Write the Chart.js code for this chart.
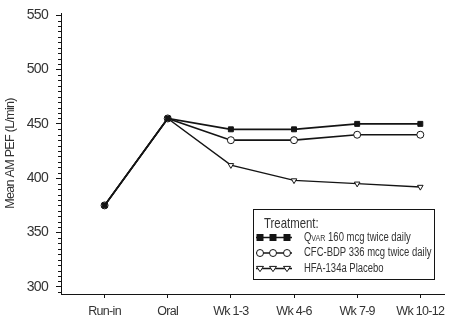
<!DOCTYPE html>
<html>
<head>
<meta charset="utf-8">
<script src="https://cdn.jsdelivr.net/npm/chart.js@4/dist/chart.umd.min.js"></script>
<style>
  html, body { margin: 0; padding: 0; background: #fff; }
  #wrap { width: 449px; height: 320px; position: relative; }
</style>
</head>
<body>
<div id="wrap"><canvas id="pefChart"></canvas></div>
<script>
// datos
const categories = ['Run-in', 'Oral', 'Wk 1-3', 'Wk 4-6', 'Wk 7-9', 'Wk 10-12'];
const qvarValues = [375, 455, 445, 445, 450, 450];
const cfcValues = [375, 455, 435, 435, 440, 440];
const hfaValues = [375, 455, 412, 398, 395, 392];
const yTickValues = [300, 350, 400, 450, 500, 550];
const legendTitle = 'Treatment:';
const seriesNames = ['Qvar 160 mcg twice daily', 'CFC-BDP 336 mcg twice daily', 'HFA-134a Placebo'];

const FONT = '"Liberation Sans", Arial, sans-serif';
const INK = '#141414';
const TEXT = '#333';

function toPoints(values) {
    return values.map((v, i) => ({ x: i, y: v }));
}

// letra mas estrecha (el original usa una fuente condensada)
const narrowText = {
    id: 'narrowText',
    beforeUpdate(chart) { chart.ctx.letterSpacing = '-0.7px'; },
    beforeDraw(chart) { chart.ctx.letterSpacing = '-0.7px'; }
};

// marcas menores del eje y cada 5 unidades
const minorTicks = {
    id: 'minorTicks',
    afterDraw(chart) {
        const y = chart.scales.y;
        const ctx = chart.ctx;
        const x0 = y.right;
        ctx.save();
        ctx.strokeStyle = INK;
        ctx.lineWidth = 1;
        ctx.beginPath();
        for (let v = 295; v <= 550; v += 5) {
            if (v % 50 === 0) continue;
            const py = Math.round(y.getPixelForValue(v)) + 0.5;
            ctx.moveTo(x0 - 3, py);
            ctx.lineTo(x0, py);
        }
        ctx.stroke();
        ctx.restore();
    }
};

function drawMarker(ctx, style, x, y) {
    const r = 3.5;
    ctx.beginPath();
    if (style === 'rect') {
        ctx.rect(x - r, y - r, r * 2, r * 2);
        ctx.fillStyle = INK;
        ctx.fill();
        return;
    }
    if (style === 'circle') {
        ctx.arc(x, y, r, 0, Math.PI * 2);
    } else {
        ctx.moveTo(x - r, y - r * 0.6);
        ctx.lineTo(x + r, y - r * 0.6);
        ctx.lineTo(x, y + r * 0.9);
        ctx.closePath();
    }
    ctx.fillStyle = '#fff';
    ctx.fill();
    ctx.lineWidth = 1;
    ctx.strokeStyle = INK;
    ctx.stroke();
}

function narrowFill(ctx, text, x, y, sx) {
    ctx.save();
    ctx.translate(x, y);
    ctx.scale(sx, 1);
    ctx.fillText(text, 0, 0);
    const w = ctx.measureText(text).width * sx;
    ctx.restore();
    return w;
}

// leyenda en recuadro dentro del area del grafico
const boxLegend = {
    id: 'boxLegend',
    afterDraw(chart) {
        const ctx = chart.ctx;
        const left = 253.5, top = 209.5, w = 181, h = 70;
        ctx.save();
        ctx.letterSpacing = '0px';
        ctx.fillStyle = '#fff';
        ctx.fillRect(left, top, w, h);
        ctx.strokeStyle = INK;
        ctx.lineWidth = 1;
        ctx.strokeRect(left, top, w, h);

        ctx.fillStyle = TEXT;
        ctx.textBaseline = 'middle';
        ctx.font = '15px ' + FONT;
        narrowFill(ctx, legendTitle, 264, 224, 0.76);

        const styles = ['rect', 'circle', 'triangle'];
        chart.data.datasets.forEach((ds, i) => {
            const cy = 237.5 + i * 15.5;
            ctx.beginPath();
            ctx.moveTo(256, cy);
            ctx.lineTo(292, cy);
            ctx.lineWidth = 1.5;
            ctx.strokeStyle = INK;
            ctx.stroke();
            [260, 273, 287].forEach(mx => drawMarker(ctx, styles[i], mx, cy));

            ctx.fillStyle = TEXT;
            let tx = 304;
            let label = seriesNames[i];
            if (label.startsWith('Qvar')) {
                ctx.font = '12px ' + FONT;
                tx += narrowFill(ctx, 'Q', tx, cy, 0.79);
                ctx.font = '9px ' + FONT;
                tx += narrowFill(ctx, 'VAR', tx, cy + 1, 0.79);
                label = label.slice(4);
            }
            ctx.font = '12px ' + FONT;
            narrowFill(ctx, label, tx, cy, 0.79);
        });
        ctx.restore();
    }
};

const ctx = document.getElementById('pefChart').getContext('2d');
const pefChart = new Chart(ctx, {
    type: 'line',
    data: {
        datasets: [
            {
                label: seriesNames[0],
                data: toPoints(qvarValues),
                borderColor: INK,
                borderWidth: 1.7,
                pointStyle: 'rect',
                pointRadius: 3.5,
                pointBackgroundColor: INK,
                pointBorderColor: INK,
                pointBorderWidth: 1
            },
            {
                label: seriesNames[1],
                data: toPoints(cfcValues),
                borderColor: INK,
                borderWidth: 1.7,
                pointStyle: 'circle',
                pointRadius: 3.5,
                pointBackgroundColor: '#fff',
                pointBorderColor: INK,
                pointBorderWidth: 1
            },
            {
                label: seriesNames[2],
                data: toPoints(hfaValues),
                borderColor: INK,
                borderWidth: 1.4,
                pointStyle: 'triangle',
                pointRotation: 180,
                pointRadius: 3.2,
                pointBackgroundColor: '#fff',
                pointBorderColor: INK,
                pointBorderWidth: 1
            }
        ]
    },
    options: {
        responsive: true,
        maintainAspectRatio: false,
        animation: false,
        layout: {
            padding: { top: 13, right: 0, bottom: 0, left: 0 }
        },
        plugins: {
            legend: { display: false },
            tooltip: { enabled: false }
        },
        scales: {
            x: {
                type: 'linear',
                min: -0.69,
                max: 5.375,
                afterBuildTicks: s => { s.ticks = categories.map((c, i) => ({ value: i })); },
                afterFit: s => { s.height = 26; s.paddingLeft = 0; s.paddingRight = 0; },
                grid: {
                    drawOnChartArea: false,
                    tickLength: 4,
                    tickColor: INK
                },
                border: { color: INK, width: 1 },
                ticks: {
                    padding: 6,
                    color: TEXT,
                    maxRotation: 0,
                    autoSkip: false,
                    font: { family: FONT, size: 12.5 },
                    callback: v => categories[v]
                }
            },
            y: {
                min: 293.5,
                max: 552,
                afterBuildTicks: s => { s.ticks = yTickValues.map(v => ({ value: v })); },
                afterFit: s => { s.width = 61; s.paddingTop = 0; s.paddingBottom = 0; },
                grid: {
                    drawOnChartArea: false,
                    tickLength: 5,
                    tickColor: INK
                },
                border: { color: INK, width: 1 },
                ticks: {
                    padding: 8,
                    color: TEXT,
                    font: { family: FONT, size: 14 }
                },
                title: {
                    display: true,
                    text: 'Mean AM PEF (L/min)',
                    color: TEXT,
                    padding: { top: 3, bottom: 0 },
                    font: { family: FONT, size: 12.5 }
                }
            }
        }
    },
    plugins: [narrowText, minorTicks, boxLegend]
});
</script>
</body>
</html>
